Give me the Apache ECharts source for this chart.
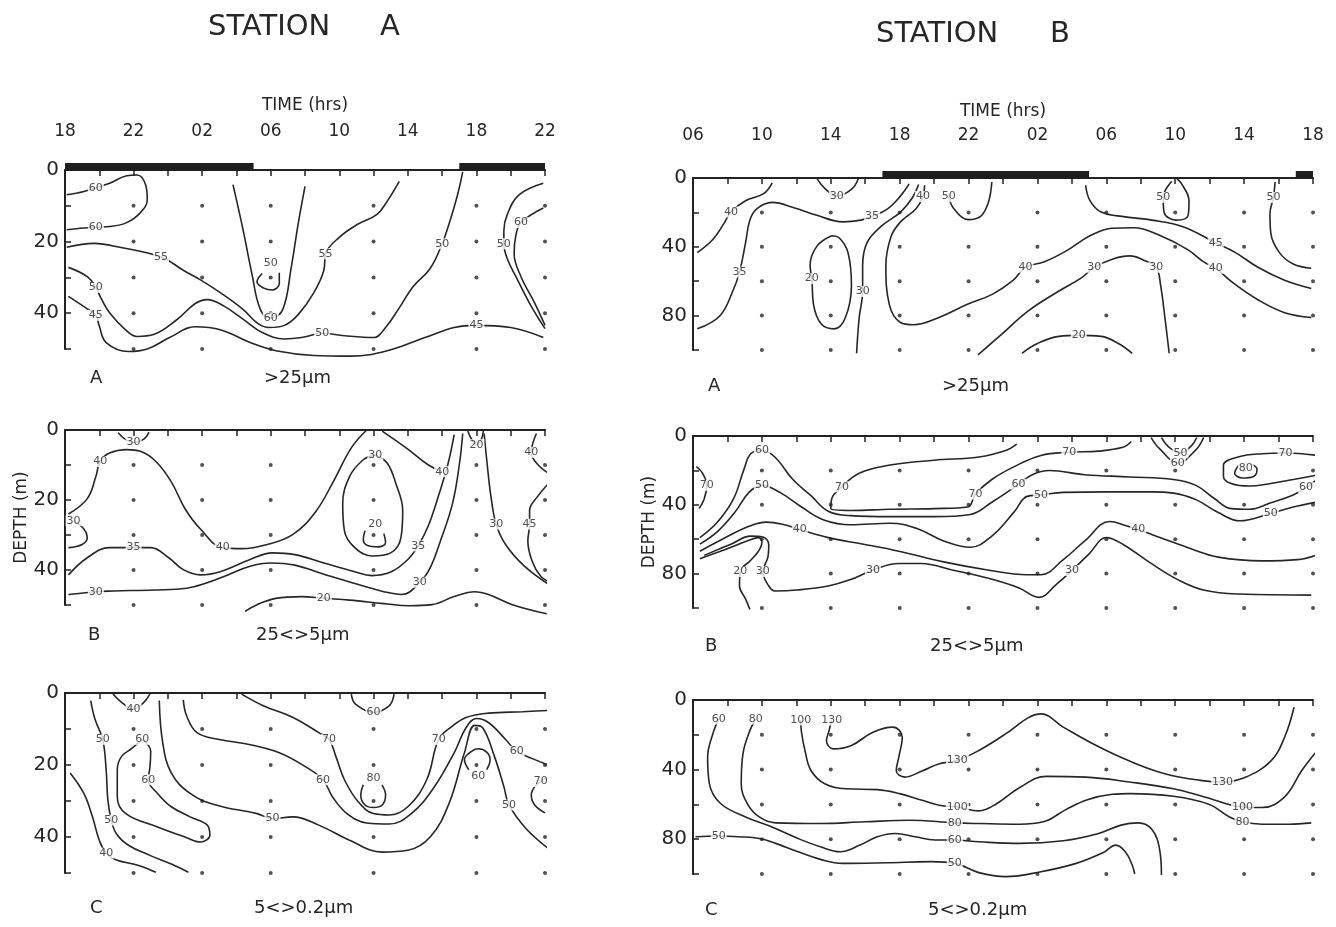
<!DOCTYPE html>
<html>
<head>
<meta charset="utf-8">
<script src="https://cdn.jsdelivr.net/npm/echarts@6/dist/echarts.min.js"></script>
<style>
  html, body { margin: 0; padding: 0; background: #fff; }
  #chart { width: 1336px; height: 927px; }
</style>
</head>
<body>
<div id="chart"></div>
<script>
// time axis: hours since first tick (station A starts 18h, station B starts 06h)
var ticksA = ['18', '22', '02', '06', '10', '14', '18', '22']
var ticksB = ['06', '10', '14', '18', '22', '02', '06', '10', '14', '18']
var depthLabA = [0, 20, 40]
var depthLabB = [0, 40, 80]
// sampling grid
var timesA = [4, 8, 12, 18, 24, 28]
var depthsA = [10, 20, 30, 40, 50]
var timesB = [4, 8, 12, 16, 20, 24, 28, 32, 36]
var depthsB = [20, 40, 60, 80, 100]
// darkness (17h - 05h)
var nightA = [[0, 11], [23, 28]]
var nightB = [[11, 23], [35, 36]]

// contours: v = value, p = line [time, depth], at = label spots
var cAA = [
  {v: 60, p: [[0.1,6.9],[1.1,6.0],[2.6,3.7],[3.6,1.6],[4.2,1.4],[4.7,4.1],[4.8,8.3],[4.4,11.9],[3.6,14.7],[2.6,15.8],[1.1,16.2],[0.1,16.7]], at: [[1.8,5.2],[1.8,16.1]]},
  {v: 55, p: [[0.1,21.6],[1.7,20.5],[3.2,21.6],[5.6,24.3],[6.9,28.0],[7.9,30.7],[9.1,34.4],[10.4,39.0],[11.2,42.7],[11.9,44.0],[12.8,43.4],[13.6,40.4],[14.5,34.4],[15.1,28.0],[15.2,23.4],[16.0,18.8],[17.1,15.1],[18.2,12.4],[18.8,8.7],[19.5,3.2]], at: [[5.6,24.3],[15.2,23.4]]},
  {v: 60, p: [[9.8,4.1],[10.4,17.0],[10.9,28.9],[11.4,39.0],[12.0,41.3],[12.7,39.0],[13.2,27.1],[13.6,15.1],[14.0,4.6]], at: [[12.0,41.3]]},
  {v: 50, p: [[11.5,28.9],[11.2,31.2],[11.6,33.0],[12.1,33.5],[12.5,31.7],[12.5,28.7]], at: [[12.0,26.1]]},
  {v: 50, p: [[0.2,27.2],[1.3,29.8],[1.8,32.8],[2.1,35.8],[2.6,39.9],[3.5,44.5],[4.2,46.5],[5.2,45.9],[6.5,41.9],[7.6,37.3],[8.3,36.2],[9.3,38.1],[10.4,41.7],[11.5,45.4],[12.8,47.2],[13.8,46.8],[15.0,45.6],[16.3,46.3],[18.0,46.8],[18.7,44.0],[19.5,38.5],[20.3,32.6],[21.3,27.5],[22.0,20.6],[22.4,15.1],[22.9,6.9],[23.2,0.5]], at: [[1.8,32.8],[15.0,45.6],[22.0,20.6]]},
  {v: 45, p: [[0.2,35.3],[1.3,38.8],[1.8,40.6],[2.0,43.6],[2.4,48.2],[3.7,50.7],[4.8,50.0],[6.1,46.8],[7.6,43.8],[9.1,44.7],[10.8,48.2],[12.3,50.5],[14.5,51.8],[16.7,52.0],[18.8,50.5],[21.0,46.8],[22.7,44.0],[24.0,43.4],[26.0,44.0],[27.9,46.8]], at: [[1.8,40.6],[24.0,43.4]]},
  {v: 50, p: [[27.9,3.7],[26.5,6.9],[25.8,12.4],[25.6,17.0],[25.6,20.6],[25.8,24.8],[26.4,30.7],[27.2,38.1],[28.0,44.3]], at: [[25.6,20.6]]},
  {v: 60, p: [[27.9,10.6],[26.6,14.7],[26.3,18.3],[26.2,23.4],[26.6,29.8],[27.4,37.2],[28.0,43.4]], at: [[26.6,14.7]]}
]
var cAB = [
  {v: 30, p: [[3.1,0.8],[3.5,2.6],[4.0,3.6],[4.6,2.6],[4.9,0.6]], at: [[4.0,3.6]]},
  {v: 40, p: [[0.2,24.0],[1.3,19.6],[1.8,13.3],[2.05,9.0],[2.6,6.6],[3.6,5.6],[4.4,6.1],[5.3,9.0],[6.2,14.8],[7.0,22.5],[7.9,28.3],[9.2,33.6],[10.3,33.9],[11.8,32.7],[13.3,29.8],[14.6,23.5],[15.7,14.3],[16.7,5.1],[17.6,0.0]], at: [[2.05,9.0],[9.2,33.6]]},
  {v: 40, p: [[18.5,0.3],[19.9,5.1],[21.2,10.0],[22.0,11.9]], at: [[22.0,11.9]]},
  {v: 30, p: [[18.1,7.1],[17.4,8.5],[16.6,13.3],[16.2,21.1],[16.3,28.8],[16.9,33.6],[17.9,36.0],[19.0,35.1],[19.6,30.7],[19.7,23.0],[19.3,15.3],[18.8,9.5],[18.1,7.1]], at: [[18.1,7.1]]},
  {v: 20, p: [[17.5,28.8],[17.4,31.2],[17.7,33.1],[18.25,33.4],[18.7,32.2],[18.6,29.6]], at: [[18.1,26.9]]},
  {v: 35, p: [[0.2,41.4],[1.3,36.5],[2.6,33.6],[4.0,33.6],[5.0,33.6],[6.05,36.5],[6.9,39.9],[7.9,41.4],[9.1,40.4],[10.8,37.0],[12.1,35.1],[13.4,35.6],[15.1,38.0],[16.85,40.4],[17.9,41.6],[19.0,40.6],[20.0,37.0],[20.6,33.1],[21.2,27.3],[21.8,18.6],[22.35,9.5],[22.7,1.3]], at: [[4.0,33.6],[20.6,33.1]]},
  {v: 30, p: [[0.2,47.0],[1.8,46.2],[2.8,46.0],[5.2,45.7],[7.1,45.2],[8.2,43.8],[9.5,41.4],[10.8,38.9],[12.0,38.0],[13.4,38.6],[15.1,41.2],[16.85,43.8],[18.6,46.2],[19.65,47.0],[20.7,43.5],[21.3,39.4],[21.9,31.7],[22.6,21.1],[23.0,10.0],[23.2,1.0]], at: [[1.8,46.2],[20.7,43.5]]},
  {v: 20, p: [[10.5,51.8],[11.2,49.9],[12.3,48.1],[13.8,47.6],[15.1,48.1],[16.6,48.6],[18.6,49.6],[20.1,50.2],[21.4,49.9],[22.7,47.6],[23.9,46.2],[24.7,47.0],[26.1,49.9],[28.1,52.5]], at: [[15.1,48.1]]},
  {v: 20, p: [[23.5,0.3],[23.7,2.5],[24.0,4.2],[24.3,2.5],[24.4,0.3]], at: [[24.0,4.2]]},
  {v: 30, p: [[24.45,1.0],[24.6,8.5],[24.85,19.1],[25.15,26.9],[25.7,32.7],[26.8,38.9],[28.3,44.4]], at: [[25.15,26.9]]},
  {v: 45, p: [[28.3,14.8],[27.55,19.1],[27.1,23.0],[27.1,26.9],[27.0,31.7],[27.25,37.5],[27.75,41.8],[28.3,43.5]], at: [[27.1,26.9]]},
  {v: 40, p: [[27.5,1.0],[27.2,6.4],[27.6,10.0],[28.3,12.6]], at: [[27.2,6.4]]},
  {v: 30, p: [[0.5,25.9],[1.1,28.3],[1.3,30.7],[1.0,32.7],[0.2,33.6]], at: [[0.5,25.9]]}
]
var cAC = [
  {v: 40, p: [[2.8,0.3],[3.3,2.6],[4.0,4.5],[4.6,2.6],[4.95,0.3]], at: [[4.0,4.5]]},
  {v: 50, p: [[1.5,2.1],[1.75,7.3],[2.2,12.9],[2.4,21.3],[2.5,29.7],[2.7,35.3],[3.0,39.1],[3.7,42.3],[4.95,45.1],[6.2,47.5],[7.2,49.8]], at: [[2.2,12.9],[2.7,35.3]]},
  {v: 40, p: [[0.3,22.2],[1.1,27.9],[1.6,34.4],[2.0,40.9],[2.4,44.5],[3.0,46.4],[4.3,47.9],[5.3,49.8]], at: [[2.4,44.5]]},
  {v: 60, p: [[4.5,12.9],[5.0,16.2],[4.95,20.8],[4.85,24.1],[5.4,27.9],[6.2,31.6],[7.3,34.4],[8.3,36.7],[8.45,39.5],[7.9,41.4],[7.0,40.0],[5.4,37.2],[3.55,33.5],[3.05,28.8],[3.05,21.3],[3.3,17.6],[3.9,15.4],[4.5,12.9]], at: [[4.5,12.9],[4.85,24.1]]},
  {v: 70, p: [[10.3,0.3],[11.6,3.6],[13.3,6.8],[14.8,11.0],[15.4,12.9],[15.8,17.6],[16.3,24.1],[17.1,30.2],[18.0,33.5],[18.9,33.9],[20.0,31.6],[21.1,24.1],[21.8,12.9],[22.6,9.2],[23.4,6.8],[24.7,5.6],[26.7,5.2],[28.3,4.8]], at: [[15.4,12.9],[21.8,12.9]]},
  {v: 60, p: [[6.9,1.9],[7.1,6.4],[7.7,11.0],[9.0,12.9],[10.75,14.3],[12.5,16.6],[14.0,20.4],[15.05,24.1],[15.6,28.8],[16.45,33.5],[17.6,36.1],[18.9,36.4],[20.2,33.5],[21.5,26.4],[22.7,16.6],[23.4,9.6],[24.0,7.1],[24.7,8.2],[25.7,12.9],[26.35,16.2],[27.3,18.3],[28.3,20.2]], at: [[15.05,24.1],[26.35,16.2]]},
  {v: 50, p: [[5.5,2.1],[5.7,13.8],[6.2,22.2],[7.3,27.9],[8.8,31.1],[11.2,33.5],[12.1,34.9],[13.3,34.4],[14.8,36.7],[16.6,40.9],[18.5,44.2],[20.0,43.7],[21.3,40.0],[22.4,30.7],[23.3,16.6],[23.9,9.0],[24.35,9.6],[25.05,17.6],[25.6,26.0],[25.9,31.1],[26.9,37.7],[28.3,43.6]], at: [[12.1,34.9],[25.9,31.1]]},
  {v: 60, p: [[16.7,0.3],[16.95,3.1],[18.0,5.4],[18.9,3.6],[19.2,0.3]], at: [[18.0,5.4]]},
  {v: 80, p: [[18.49,25.5],[18.7,28.3],[18.5,31.1],[18.0,31.8],[17.5,31.1],[17.25,28.3],[17.4,25.5]], at: [[18.0,23.6]]},
  {v: 60, p: [[23.55,21.3],[23.3,18.5],[23.65,16.4],[24.1,15.5],[24.6,16.4],[24.8,18.5],[24.6,21.3]], at: [[24.1,23.2]]},
  {v: 70, p: [[28.3,23.0],[27.75,24.6],[27.4,26.0],[27.2,28.3],[27.4,31.1],[28.0,33.3]], at: [[27.75,24.6]]}
]
var cBA = [
  {v: 40, p: [[0.25,43.4],[1.15,35.8],[1.8,26.4],[2.2,19.8],[3.05,13.2],[4.1,9.1],[4.6,2.8]], at: [[2.2,19.8]]},
  {v: 35, p: [[0.25,87.7],[1.55,80.2],[2.3,66.0],[2.7,54.7],[3.05,37.7],[3.3,24.5],[3.7,17.9],[4.6,14.2],[5.9,17.4],[7.2,21.7],[8.7,25.5],[9.75,24.5],[10.4,22.3],[11.3,17.9],[12.05,10.4],[12.55,3.4]], at: [[2.7,54.7],[10.4,22.3]]},
  {v: 30, p: [[7.2,0.4],[7.65,6.0],[8.35,10.4],[9.2,6.6],[9.6,0.4]], at: [[8.35,10.4]]},
  {v: 20, p: [[8.05,33.6],[7.2,39.6],[6.8,50.9],[6.9,58.5],[7.0,73.6],[7.45,84.9],[8.2,87.7],[8.85,81.1],[9.2,62.3],[9.0,43.4],[8.5,34.9],[8.05,33.6]], at: [[6.9,58.5]]},
  {v: 30, p: [[9.5,101.9],[9.65,81.1],[9.85,66.0],[9.85,50.9],[10.1,37.7],[10.9,28.3],[12.05,19.8],[12.75,11.3],[13.1,3.8]], at: [[9.85,66.0]]},
  {v: 40, p: [[13.45,4.2],[13.35,10.8],[12.95,17.9],[12.05,25.5],[11.5,34.0],[11.2,50.9],[11.4,73.6],[12.05,84.0],[12.8,85.3],[14.35,80.8],[15.9,73.6],[17.4,67.5],[18.6,59.4],[19.3,51.9],[20.4,48.7],[21.65,42.5],[23.05,33.6],[24.35,29.2],[25.6,28.9],[27.15,33.6],[28.7,41.5],[29.7,49.1],[30.35,52.5],[31.4,61.3],[32.8,70.8],[34.35,78.3],[35.9,81.1]], at: [[13.35,10.8],[19.3,51.9],[30.35,52.5]]},
  {v: 50, p: [[14.85,10.8],[15.15,17.9],[16.0,24.2],[16.7,22.3],[17.15,14.2],[17.35,2.3]], at: [[14.85,10.8]]},
  {v: 45, p: [[22.8,4.2],[23.05,13.2],[23.7,19.8],[25.1,22.6],[26.65,24.5],[28.45,28.3],[30.35,37.7],[31.5,43.4],[32.8,51.9],[34.35,59.4],[35.9,64.2]], at: [[30.35,37.7]]},
  {v: 30, p: [[16.55,102.8],[17.95,90.6],[19.45,77.4],[21.25,65.7],[22.55,58.1],[23.3,51.9],[24.35,47.2],[25.35,45.3],[26.25,48.1],[26.9,51.9],[27.15,62.3],[27.4,81.1],[27.65,101.9]], at: [[23.3,51.9],[26.9,51.9]]},
  {v: 20, p: [[19.1,101.9],[20.0,96.2],[21.25,92.1],[22.4,91.5],[23.7,92.1],[24.7,96.2],[25.5,101.9]], at: [[22.4,91.5]]},
  {v: 50, p: [[27.8,1.9],[27.3,11.3],[27.35,19.8],[28.05,24.5],[28.75,21.7],[28.8,13.2],[28.4,3.8],[28.1,0.4]], at: [[27.3,11.3]]},
  {v: 50, p: [[33.8,2.3],[33.7,11.3],[33.5,20.8],[33.55,32.1],[34.05,43.4],[34.85,50.0],[35.9,52.5]], at: [[33.7,11.3]]}
]
var cBB = [
  {v: 70, p: [[0.2,17.8],[0.55,21.6],[0.8,28.7],[0.65,36.6],[0.35,42.2]], at: [[0.8,28.7]]},
  {v: 70, p: [[18.8,4.7],[18.15,8.4],[16.6,12.2],[14.0,14.1],[11.45,16.9],[9.65,21.6],[8.65,29.5],[8.05,36.6],[8.0,42.2],[9.15,43.3],[11.45,42.6],[14.0,42.2],[15.95,41.3],[16.4,33.8],[17.35,25.3],[18.65,17.8],[20.2,11.3],[21.85,9.4],[23.55,8.8],[24.95,6.6],[25.45,3.2]], at: [[8.65,29.5],[16.4,33.8],[21.85,9.4]]},
  {v: 60, p: [[0.4,59.1],[1.45,49.7],[2.35,36.6],[2.95,19.7],[3.35,10.3],[4.0,8.4],[4.75,12.2],[5.8,25.3],[6.85,34.7],[7.85,43.7],[9.15,46.3],[11.45,46.9],[14.0,46.9],[16.1,45.6],[17.35,38.5],[18.9,28.1],[19.7,22.5],[20.7,20.1],[22.75,22.5],[25.35,23.8],[27.9,25.3],[29.2,28.7],[30.25,36.2],[31.25,42.2],[32.3,42.6],[33.55,38.8],[34.85,34.3],[35.6,30.0],[36.4,23.8]], at: [[4.0,8.4],[18.9,28.1],[35.6,30.0]]},
  {v: 50, p: [[0.4,62.9],[1.45,55.3],[2.45,44.1],[3.25,32.8],[4.0,28.7],[5.05,32.8],[6.3,41.3],[7.6,48.8],[9.15,51.6],[11.45,50.7],[13.0,53.8],[14.55,61.0],[16.1,64.7],[17.35,58.2],[18.65,44.1],[19.4,35.1],[20.2,34.3],[21.5,32.8],[24.05,32.5],[26.6,32.5],[27.9,33.2],[29.2,37.0],[30.5,44.5],[31.75,49.3],[33.55,45.0],[34.85,41.3],[36.15,38.5]], at: [[4.0,28.7],[20.2,34.3],[33.55,45.0]]},
  {v: 40, p: [[0.4,67.0],[1.7,60.0],[3.25,52.5],[4.25,50.1],[5.3,51.6],[6.2,54.4],[7.85,59.1],[9.9,62.9],[11.95,67.0],[14.55,73.2],[17.1,77.9],[19.4,80.7],[20.2,80.7],[21.5,71.9],[22.75,61.0],[24.2,49.7],[25.1,52.0],[25.85,54.4],[27.15,59.1],[28.95,65.7],[30.5,70.4],[33.05,72.6],[35.1,71.9],[36.4,68.5]], at: [[6.2,54.4],[25.85,54.4]]},
  {v: 30, p: [[0.65,69.4],[2.2,62.9],[3.35,58.2],[4.05,58.7],[4.4,63.2],[4.35,70.4],[4.05,78.8],[4.4,87.2],[4.75,90.1],[6.05,89.5],[7.85,87.2],[9.15,83.5],[10.45,77.9],[11.95,74.1],[13.25,74.1],[15.05,77.9],[17.1,82.6],[18.9,88.2],[20.1,93.8],[21.1,86.3],[22.0,78.2],[23.0,68.5],[24.0,59.1],[24.95,62.9],[26.6,74.1],[28.15,83.5],[29.7,89.7],[31.75,91.9],[35.9,92.5]], at: [[4.05,78.8],[10.45,77.9],[22.0,78.2]]},
  {v: 20, p: [[0.4,71.3],[1.95,65.7],[3.25,60.6],[3.8,59.1],[4.0,61.9],[3.8,67.0],[3.35,72.2],[2.75,78.8],[2.7,87.2],[3.05,94.7],[3.3,100.8]], at: [[2.75,78.8]]},
  {v: 60, p: [[26.6,0.9],[27.1,7.5],[28.15,15.6],[29.2,8.1],[29.65,0.9]], at: [[28.15,15.6]]},
  {v: 50, p: [[27.2,0.9],[27.65,6.6],[28.3,9.8],[28.95,5.6],[29.25,0.9]], at: [[28.3,9.8]]},
  {v: 80, p: [[31.7,16.9],[31.45,21.6],[31.9,24.4],[32.55,23.5],[32.75,19.3],[32.4,16.3]], at: [[32.1,18.8]]},
  {v: 70, p: [[36.25,11.3],[34.4,9.9],[33.05,10.3],[31.65,12.2],[30.8,16.9],[30.8,23.5],[31.25,27.6],[32.3,29.1],[33.55,27.6],[34.85,25.3],[36.35,22.5]], at: [[34.4,9.9]]}
]
var cBC = [
  {v: 60, p: [[1.5,10.9],[1.15,19.5],[0.85,32.8],[0.95,48.1],[1.6,59.5],[3.05,67.2],[4.55,72.9],[6.1,79.6],[7.4,84.4],[8.55,87.2],[9.7,83.4],[10.7,78.6],[11.75,76.7],[12.9,78.6],[14.05,80.5],[15.2,80.5],[16.6,81.5],[18.95,82.4],[21.5,80.9],[23.55,76.7],[24.85,71.9],[25.85,70.6],[26.65,74.4],[27.1,86.3],[27.2,100.6]], at: [[1.5,10.9],[15.2,80.5]]},
  {v: 80, p: [[3.65,10.9],[3.3,17.6],[2.9,30.9],[2.8,48.1],[3.15,59.5],[3.85,67.2],[4.8,70.6],[7.4,71.0],[9.95,70.0],[12.55,69.1],[15.2,70.6],[16.6,71.0],[18.95,71.4],[20.35,70.0],[21.65,63.0],[22.9,57.3],[24.35,54.2],[25.35,53.8],[27.9,55.3],[29.95,59.9],[31.15,67.2],[31.9,70.0],[33.05,71.4],[34.6,71.4],[35.9,70.6]], at: [[3.65,10.9],[15.2,70.6],[31.9,70.0]]},
  {v: 100, p: [[6.25,11.5],[6.3,18.5],[6.5,29.0],[6.85,40.5],[7.65,48.1],[8.9,51.0],[10.7,51.5],[12.0,53.8],[13.3,57.6],[14.3,60.5],[15.35,61.5],[16.6,63.7],[17.65,59.5],[18.95,50.4],[20.5,43.9],[22.8,44.3],[25.35,47.1],[27.9,51.0],[29.7,55.7],[31.9,61.5],[33.05,61.8],[34.35,55.7],[35.35,40.5],[36.25,29.0]], at: [[6.25,11.5],[15.35,61.5],[31.9,61.5]]},
  {v: 130, p: [[8.05,11.5],[7.9,17.6],[7.75,23.3],[8.15,28.1],[9.2,26.1],[10.45,18.5],[11.6,15.6],[12.15,21.4],[11.95,32.8],[11.8,40.5],[12.3,44.3],[13.3,40.8],[14.3,36.6],[15.35,34.7],[16.6,29.0],[18.15,19.5],[19.45,10.3],[20.2,8.0],[21.5,15.6],[23.3,25.6],[25.35,35.1],[27.4,42.4],[29.45,46.2],[30.75,47.1],[32.0,44.7],[33.55,35.1],[34.35,21.4],[34.9,4.2]], at: [[8.05,11.5],[15.35,34.7],[30.75,47.1]]},
  {v: 50, p: [[0.15,78.6],[1.5,78.2],[2.65,78.6],[3.85,79.6],[4.8,82.4],[6.1,87.2],[7.4,91.6],[8.7,93.9],[11.25,93.5],[13.8,92.9],[15.2,93.9],[16.6,99.2],[18.15,101.5],[20.2,98.7],[22.25,93.9],[23.8,87.8],[24.55,83.4],[25.1,87.2],[25.5,94.8],[25.65,100.0]], at: [[1.5,78.2],[15.2,93.9]]}
]

var TXT = '#262626'
var FONT = 'DejaVu Sans'

var grids = [
  {left: 65, top: 170, width: 480, height: 179},
  {left: 65, top: 430, width: 480, height: 175},
  {left: 65, top: 693, width: 480, height: 180},
  {left: 693, top: 178, width: 620, height: 172},
  {left: 693, top: 436, width: 620, height: 172},
  {left: 693, top: 700, width: 620, height: 174}
]

function xAxisOf(gi, span, ticks, withLabels, margin, nameGap) {
  return {
    gridIndex: gi,
    type: 'value', position: 'top', min: 0, max: span, interval: 2,
    name: withLabels ? 'TIME (hrs)' : '', nameLocation: 'middle', nameGap: nameGap,
    nameTextStyle: {color: TXT, fontSize: 17, fontFamily: FONT},
    axisLine: {show: true, onZero: false, lineStyle: {color: '#222', width: 2}},
    axisTick: {show: true, inside: true, length: 6, lineStyle: {color: '#222', width: 1.5}},
    axisLabel: {
      show: withLabels, margin: margin, color: TXT, fontSize: 17, fontFamily: FONT,
      showMinLabel: true, showMaxLabel: true,
      formatter: function (v) { return v % 4 === 0 ? ticks[v / 4] : '' }
    },
    splitLine: {show: false}
  }
}

function yAxisOf(gi, max, step, labs, withName) {
  return {
    gridIndex: gi,
    type: 'value', inverse: true, min: 0, max: max, interval: step,
    name: withName ? 'DEPTH (m)' : '', nameLocation: 'middle', nameRotate: 90, nameGap: 35,
    nameTextStyle: {color: TXT, fontSize: 17, fontFamily: FONT},
    axisLine: {show: true, onZero: false, lineStyle: {color: '#222', width: 2}},
    axisTick: {show: true, inside: true, length: 6, lineStyle: {color: '#222', width: 1.5}},
    axisLabel: {
      margin: 6, color: TXT, fontSize: 20, fontFamily: FONT,
      formatter: function (v) { return labs.indexOf(v) >= 0 ? String(v) : '' }
    },
    splitLine: {show: false}
  }
}

function panelSeries(idx, contours, times, depths, night) {
  var out = []
  var dots = []
  times.forEach(function (t) { depths.forEach(function (d) { dots.push([t, d]) }) })
  out.push({
    type: 'scatter', xAxisIndex: idx, yAxisIndex: idx, data: dots, symbolSize: 4,
    itemStyle: {color: '#262626'}, silent: true, z: 2, clip: false
  })
  contours.forEach(function (c) {
    out.push({
      type: 'line', xAxisIndex: idx, yAxisIndex: idx, data: c.p, smooth: 0.4,
      symbol: 'none', clip: false, silent: true,
      lineStyle: {color: '#262626', width: 1.6}, z: 3
    })
    out.push({
      type: 'scatter', xAxisIndex: idx, yAxisIndex: idx, clip: false, silent: true,
      data: c.at.map(function (a) { return [a[0], a[1], c.v] }),
      symbolSize: 1, itemStyle: {color: 'rgba(0,0,0,0)'}, z: 4,
      label: {
        show: true, position: 'inside', color: '#222', fontSize: 11, fontFamily: FONT,
        backgroundColor: '#fff', padding: [0, 1],
        formatter: function (p) { return String(p.value[2]) }
      }
    })
  })
  if (night) {
    out.push({
      type: 'custom', xAxisIndex: idx, yAxisIndex: idx, data: night, clip: false, silent: true, z: 5,
      renderItem: function (params, api) {
        var s = api.coord([api.value(0), 0])
        var e = api.coord([api.value(1), 0])
        return {type: 'rect', shape: {x: s[0], y: s[1] - 7, width: e[0] - s[0], height: 8}, style: {fill: '#1e1e1e'}}
      }
    })
  }
  return out
}

function txt(x, y, s, size) {
  return {type: 'text', left: x, top: y, style: {text: s, fill: TXT, fontSize: size, fontFamily: FONT}}
}

var series = []
  .concat(panelSeries(0, cAA, timesA, depthsA, nightA))
  .concat(panelSeries(1, cAB, timesA, depthsA, null))
  .concat(panelSeries(2, cAC, timesA, depthsA, null))
  .concat(panelSeries(3, cBA, timesB, depthsB, nightB))
  .concat(panelSeries(4, cBB, timesB, depthsB, null))
  .concat(panelSeries(5, cBC, timesB, depthsB, null))

var option = {
  backgroundColor: '#fff',
  animation: false,
  grid: grids,
  xAxis: [
    xAxisOf(0, 28, ticksA, true, 30, 56),
    xAxisOf(1, 28, ticksA, false, 30, 0),
    xAxisOf(2, 28, ticksA, false, 30, 0),
    xAxisOf(3, 36, ticksB, true, 34, 58),
    xAxisOf(4, 36, ticksB, false, 34, 0),
    xAxisOf(5, 36, ticksB, false, 34, 0)
  ],
  yAxis: [
    yAxisOf(0, 50, 10, depthLabA, false),
    yAxisOf(1, 50, 10, depthLabA, true),
    yAxisOf(2, 50, 10, depthLabA, false),
    yAxisOf(3, 100, 20, depthLabB, false),
    yAxisOf(4, 100, 20, depthLabB, true),
    yAxisOf(5, 100, 20, depthLabB, false)
  ],
  graphic: [
    txt(208, 13, 'STATION', 29), txt(380, 13, 'A', 29),
    txt(876, 20, 'STATION', 29), txt(1050, 20, 'B', 29),
    txt(90, 369, 'A', 18), txt(264, 369, '>25µm', 18),
    txt(88, 626, 'B', 18), txt(256, 626, '25<>5µm', 18),
    txt(90, 899, 'C', 18), txt(254, 899, '5<>0.2µm', 18),
    txt(708, 377, 'A', 18), txt(942, 377, '>25µm', 18),
    txt(705, 637, 'B', 18), txt(930, 637, '25<>5µm', 18),
    txt(705, 901, 'C', 18), txt(928, 901, '5<>0.2µm', 18)
  ],
  series: series
}

var chart = echarts.init(document.getElementById('chart'))
chart.setOption(option)
</script>
</body>
</html>
